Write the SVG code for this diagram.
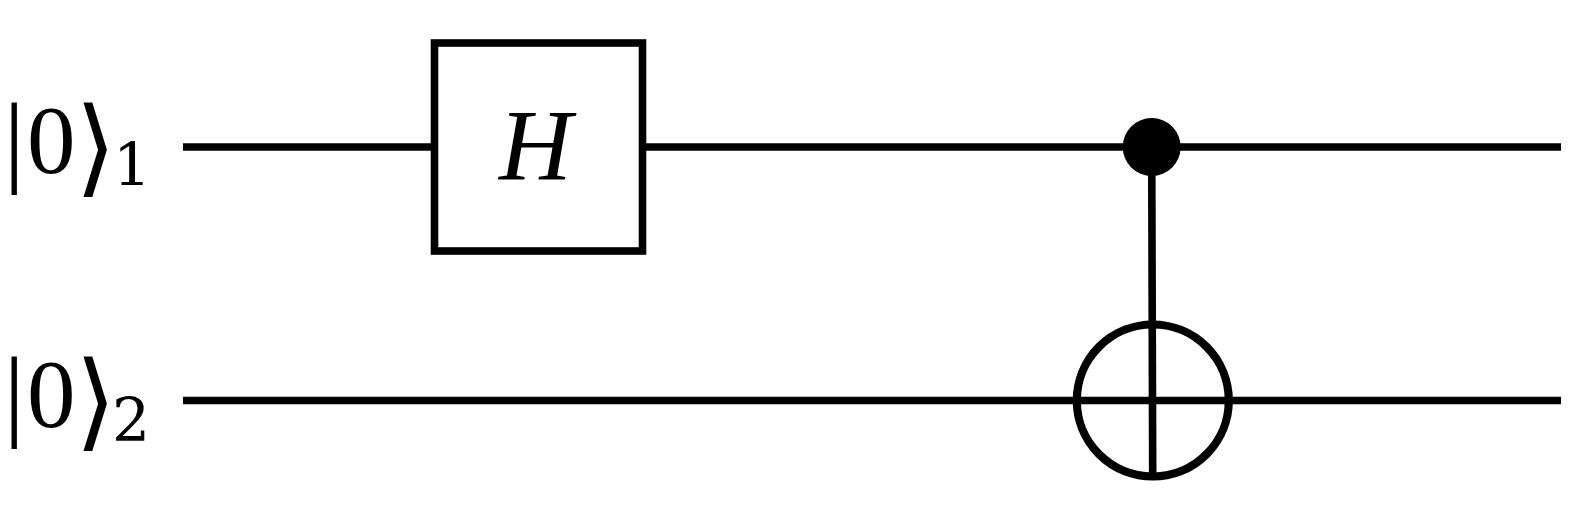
<svg xmlns="http://www.w3.org/2000/svg" width="1586" height="520" viewBox="0 0 1586 520">
<style>
.w{stroke:#000;stroke-width:7.600;fill:none}
.t{font-family:"Liberation Serif","DejaVu Serif",serif;fill:#000}
.b{font-family:"Roboto",sans-serif;font-weight:300;font-size:109px}
.a{font-family:"DejaVu Sans",sans-serif;font-weight:200;font-size:106px}
.z{font-size:97px}
.s{font-family:"DejaVu Serif",serif;font-size:60px}
</style>
<rect width="1586" height="520" fill="#fff"/>
<g id="connectors">
<line class="w" x1="183" y1="147" x2="431" y2="147"/>
<line class="w" x1="646" y1="147" x2="1561" y2="147"/>
<line class="w" x1="183" y1="400.500" x2="1561" y2="400.500"/>
<line class="w" x1="1151.700" y1="147" x2="1152.700" y2="476"/>
</g>
<g id="label-1">
<text class="t" y="173"><tspan class="b" x="2" y="181">|</tspan><tspan class="z" x="27" y="173">0</tspan><tspan class="a" x="74.500" y="183">⟩</tspan><tspan class="s" x="113" y="186">1</tspan></text>
</g>
<g id="label-2">
<text class="t" y="427"><tspan class="b" x="2" y="435">|</tspan><tspan class="z" x="27" y="427">0</tspan><tspan class="a" x="74.500" y="437">⟩</tspan><tspan class="s" x="112" y="440.500">2</tspan></text>
</g>
<g id="gate-h">
<rect class="w" x="434.500" y="43" width="208" height="208" fill="#fff"/>
<text class="t" x="499" y="180" font-size="101" font-style="italic">H</text>
</g>
<g id="control">
<circle cx="1151.700" cy="147" r="29" fill="#000"/>
</g>
<g id="target">
<circle class="w" cx="1152.800" cy="400.500" r="76" style="stroke-width:8.200"/>
</g>
</svg>
